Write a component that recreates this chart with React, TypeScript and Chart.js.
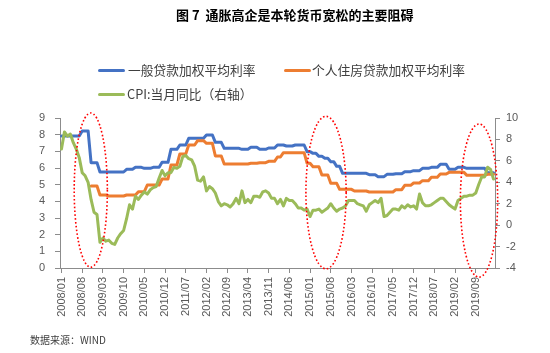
import React, { useEffect, useRef } from "react";
import { Chart, registerables } from "chart.js";

Chart.register(...registerables);

// ---- categories (monthly, 2008/01 – 2020/03) ----
const categories: string[] = [];
for (let yr = 2008; yr <= 2020; yr++) {
  for (let m = 1; m <= 12; m++) {
    if (yr === 2020 && m > 3) break;
    categories.push(`${yr}/${String(m).padStart(2, "0")}`);
  }
}

const tickLabels: string[] = [
  "2008/01", "2008/08", "2009/03", "2009/10", "2010/05", "2010/12", "2011/07",
  "2012/02", "2012/09", "2013/04", "2013/11", "2014/06", "2015/01", "2015/08",
  "2016/03", "2016/10", "2017/05", "2017/12", "2018/07", "2019/02", "2019/09",
];

const leftTicks: number[] = [0, 1, 2, 3, 4, 5, 6, 7, 8, 9];
const rightTicks: number[] = [-4, -2, 0, 2, 4, 6, 8, 10];

// 一般贷款加权平均利率 (%)
const generalRate: number[] = [
  7.92, 7.92, 7.92, 7.92, 7.92, 7.92, 7.92, 8.22, 8.22, 8.22, 6.32, 6.32,
  6.32, 5.76, 5.76, 5.76, 5.76, 5.76, 5.76, 5.76, 5.76, 5.76, 5.92, 5.92,
  5.92, 6.04, 6.04, 6.04, 5.98, 5.98, 5.98, 6.04, 6.04, 6.04, 6.34, 6.34,
  6.34, 7.12, 7.12, 7.12, 7.38, 7.38, 7.38, 7.78, 7.78, 7.78, 7.78, 7.78,
  7.78, 7.98, 7.98, 7.98, 7.54, 7.54, 7.54, 7.18, 7.18, 7.18, 7.18, 7.18,
  7.18, 7.12, 7.12, 7.12, 7.24, 7.24, 7.24, 7.12, 7.12, 7.12, 7.2, 7.2,
  7.2, 7.38, 7.38, 7.38, 7.32, 7.32, 7.32, 7.38, 7.38, 7.38, 7.38, 6.98,
  6.98, 6.88, 6.88, 6.7, 6.7, 6.58, 6.58, 6.38, 6.38, 6.1, 6.1, 5.68,
  5.68, 5.68, 5.68, 5.68, 5.68, 5.68, 5.68, 5.68, 5.6, 5.6, 5.6, 5.48,
  5.48, 5.48, 5.62, 5.62, 5.62, 5.66, 5.66, 5.66, 5.78, 5.78, 5.78, 5.84,
  5.84, 5.84, 5.98, 5.98, 5.98, 6.04, 6.04, 6.04, 6.22, 6.22, 6.22, 5.92,
  5.92, 5.92, 6.04, 6.04, 6.04, 5.98, 5.98, 5.98, 5.98, 5.98, 5.98, 5.98,
  5.72, 5.72, 5.72,
];

// 个人住房贷款加权平均利率 (%)
const housingRate: (number | null)[] = [
  null, null, null, null, null, null, null, null, null, null, 4.92, 4.92,
  4.92, 4.38, 4.38, 4.38, 4.32, 4.32, 4.32, 4.32, 4.32, 4.32, 4.38, 4.38,
  4.38, 4.38, 4.58, 4.58, 4.58, 4.98, 4.98, 4.98, 4.98, 4.98, 5.34, 5.34,
  5.34, 6.18, 6.18, 6.18, 6.84, 6.84, 6.84, 7.38, 7.38, 7.38, 7.64, 7.64,
  7.64, 7.48, 7.48, 7.48, 6.72, 6.72, 6.72, 6.24, 6.24, 6.24, 6.24, 6.24,
  6.24, 6.24, 6.24, 6.24, 6.28, 6.28, 6.28, 6.32, 6.32, 6.32, 6.4, 6.4,
  6.4, 6.66, 6.66, 6.92, 6.92, 6.92, 6.92, 6.92, 6.92, 6.92, 6.92, 6.28,
  6.28, 6.08, 6.08, 6.08, 5.58, 5.58, 5.58, 5.08, 5.08, 5.08, 4.72, 4.72,
  4.72, 4.72, 4.72, 4.62, 4.62, 4.62, 4.62, 4.62, 4.56, 4.56, 4.56, 4.56,
  4.56, 4.56, 4.56, 4.56, 4.56, 4.7, 4.7, 4.7, 4.96, 4.96, 4.96, 5.1,
  5.1, 5.1, 5.24, 5.24, 5.24, 5.44, 5.44, 5.44, 5.64, 5.64, 5.64, 5.74,
  5.74, 5.74, 5.74, 5.74, 5.74, 5.56, 5.56, 5.56, 5.56, 5.56, 5.56, 5.56,
  5.62, 5.62, 5.62,
];

// CPI:当月同比 (%)
const cpiYoY: number[] = [
  7.1, 8.7, 8.3, 8.5, 7.7, 7.1, 6.3, 4.9, 4.6, 4.0, 2.4, 1.2,
  1.0, -1.6, -1.2, -1.5, -1.4, -1.7, -1.8, -1.2, -0.8, -0.5, 0.6, 1.9,
  1.5, 2.7, 2.4, 2.8, 3.1, 2.9, 3.3, 3.5, 3.6, 4.4, 5.1, 4.6,
  4.9, 4.9, 5.4, 5.3, 5.5, 6.4, 6.5, 6.2, 6.1, 5.5, 4.2, 4.1,
  4.5, 3.2, 3.6, 3.4, 3.0, 2.2, 1.8, 2.0, 1.9, 1.7, 2.0, 2.5,
  2.0, 3.2, 2.1, 2.4, 2.1, 2.7, 2.7, 2.6, 3.1, 3.2, 3.0, 2.5,
  2.5, 2.0, 2.4, 1.8, 2.5, 2.3, 2.3, 2.0, 1.6, 1.6, 1.4, 1.5,
  0.8, 1.4, 1.4, 1.5, 1.2, 1.4, 1.6, 2.0, 1.6, 1.3, 1.5, 1.6,
  1.8, 2.3, 2.3, 2.3, 2.0, 1.9, 1.8, 1.3, 1.9, 2.1, 2.3, 2.1,
  2.5, 0.8, 0.9, 1.2, 1.5, 1.5, 1.4, 1.8, 1.6, 1.9, 1.7, 1.8,
  1.5, 2.9, 2.1, 1.8, 1.8, 1.9, 2.1, 2.3, 2.5, 2.5, 2.2, 1.9,
  1.7, 1.5, 2.3, 2.5, 2.7, 2.7, 2.8, 2.8, 3.0, 3.8, 4.5, 4.5,
  5.4, 5.2, 4.3,
];

// highlighted periods (red dotted ellipses), in axis units
const highlightCenter: number[] = [9.9, 89.4, 141.1];
const highlightHalfSpan: number[] = [5.6, 6.8, 6.3];
const highlightTop: number[] = [9.3, 9.1, 8.64];
const highlightBottom: number[] = [0.05, -0.05, -0.55];

const SERIES_NAMES = ["一般贷款加权平均利率", "个人住房贷款加权平均利率", "CPI:当月同比（右轴）"];
const BLUE = "#4472C4";
const ORANGE = "#ED7D31";
const GREEN = "#9BBB59";
const AXIS = "#8C8C8C";
const TICK_TEXT = "#595959";
const TEXT = "#404040";
const CJK = '"Noto Sans CJK SC", "Noto Sans", sans-serif';

const highlightPlugin = {
  id: "highlightEllipses",
  afterDatasetsDraw(chart: any) {
    const { ctx, scales } = chart;
    const xs = scales.x;
    const ys = scales.y;
    ctx.save();
    ctx.strokeStyle = "#FF0000";
    ctx.lineWidth = 1.6;
    ctx.setLineDash([1.6, 2.2]);
    highlightCenter.forEach((c, k) => {
      const cx = xs.getPixelForValue(c);
      const rx = xs.getPixelForValue(c + highlightHalfSpan[k]) - cx;
      const top = ys.getPixelForValue(highlightTop[k]);
      const bot = ys.getPixelForValue(highlightBottom[k]);
      ctx.beginPath();
      ctx.ellipse(cx, (top + bot) / 2, rx, (bot - top) / 2, 0, 0, Math.PI * 2);
      ctx.stroke();
    });
    ctx.restore();
  },
};

export default function App() {
  const canvasRef = useRef<HTMLCanvasElement | null>(null);

  useEffect(() => {
    const canvas = canvasRef.current;
    if (!canvas) return;
    const tickFont = { family: '"Liberation Sans", Arial, sans-serif', size: 11 };
    const lineCommon = {
      borderWidth: 3,
      pointRadius: 0,
      tension: 0,
      borderCapStyle: "round" as const,
      borderJoinStyle: "round" as const,
      fill: false,
    };
    const chart = new Chart(canvas, {
      type: "line",
      data: {
        labels: categories,
        datasets: [
          { ...lineCommon, label: SERIES_NAMES[0], data: generalRate, borderColor: BLUE, yAxisID: "y", order: 2 },
          { ...lineCommon, label: SERIES_NAMES[1], data: housingRate, borderColor: ORANGE, yAxisID: "y", order: 1 },
          { ...lineCommon, label: SERIES_NAMES[2], data: cpiYoY, borderColor: GREEN, yAxisID: "y1", order: 0 },
        ],
      },
      options: {
        animation: false,
        responsive: false,
        maintainAspectRatio: false,
        layout: { padding: { left: 0, right: 0, top: 118, bottom: 0 } },
        plugins: { legend: { display: false }, tooltip: { enabled: false }, title: { display: false } },
        scales: {
          x: {
            type: "category",
            offset: true,
            grid: { offset: false, drawOnChartArea: false, tickLength: 5, color: AXIS },
            border: { color: AXIS, width: 1 },
            ticks: { autoSkip: false, maxRotation: 90, minRotation: 90, padding: 4, color: TICK_TEXT, font: tickFont },
            afterBuildTicks: (s: any) => {
              s.ticks = s.ticks.filter((t: any) => tickLabels.includes(categories[t.value]));
            },
            afterFit: (s: any) => {
              s.height = 85;
            },
          },
          y: {
            position: "left",
            min: 0,
            max: 9,
            grid: { drawOnChartArea: false, tickLength: 5, color: AXIS },
            border: { color: AXIS, width: 1 },
            ticks: { stepSize: 1, padding: 10, color: TICK_TEXT, font: tickFont },
            afterBuildTicks: (s: any) => {
              s.ticks = leftTicks.map((v) => ({ value: v }));
            },
            afterFit: (s: any) => {
              s.width = 60;
            },
          },
          y1: {
            position: "right",
            min: -4,
            max: 10,
            grid: { drawOnChartArea: false, tickLength: 5, color: AXIS },
            border: { color: AXIS, width: 1 },
            ticks: { stepSize: 2, padding: 6, color: TICK_TEXT, font: tickFont },
            afterBuildTicks: (s: any) => {
              s.ticks = rightTicks.map((v) => ({ value: v }));
            },
            afterFit: (s: any) => {
              s.width = 55;
            },
          },
        },
      },
      plugins: [highlightPlugin],
    });
    return () => chart.destroy();
  }, []);

  const legendText: React.CSSProperties = {
    position: "absolute",
    fontFamily: CJK,
    fontSize: 12.75,
    color: TEXT,
    lineHeight: "16px",
    whiteSpace: "nowrap",
  };
  const swatch = (color: string, left: number, top: number): React.CSSProperties => ({
    position: "absolute",
    left,
    top,
    width: 27,
    height: 3,
    background: color,
    borderRadius: 1.5,
  });

  return (
    <div style={{ position: "fixed", left: 0, top: 0, width: 550, height: 353, background: "#fff", overflow: "hidden" }}>
      <canvas ref={canvasRef} width={550} height={353} style={{ position: "absolute", left: 0, top: 0, width: 550, height: 353 }} />
      <div
        style={{
          position: "absolute",
          left: 176,
          top: 6,
          fontFamily: CJK,
          fontWeight: 700,
          fontSize: 13,
          lineHeight: "18px",
          color: "#000",
          whiteSpace: "pre",
        }}
      >
        图 7  通胀高企是本轮货币宽松的主要阻碍
      </div>
      <div style={swatch(BLUE, 98, 69)} />
      <div style={{ ...legendText, left: 128, top: 62 }}>{SERIES_NAMES[0]}</div>
      <div style={swatch(ORANGE, 284, 69)} />
      <div style={{ ...legendText, left: 312, top: 62 }}>{SERIES_NAMES[1]}</div>
      <div style={swatch(GREEN, 98, 93)} />
      <div style={{ ...legendText, left: 127, top: 86 }}>{SERIES_NAMES[2]}</div>
      <div
        style={{
          position: "absolute",
          left: 30,
          top: 334,
          fontFamily: CJK,
          fontSize: 10,
          lineHeight: "12px",
          color: TEXT,
          whiteSpace: "nowrap",
        }}
      >
        数据来源：WIND
      </div>
    </div>
  );
}
